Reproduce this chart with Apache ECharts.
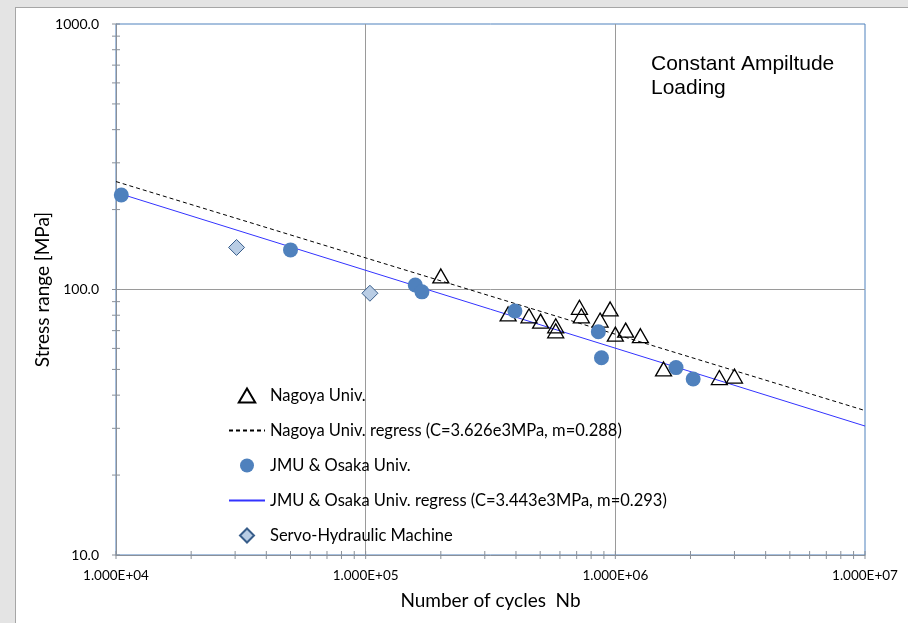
<!DOCTYPE html>
<html>
<head>
<meta charset="utf-8">
<script src="https://cdn.jsdelivr.net/npm/echarts@6/dist/echarts.min.js"></script>
<style>
html, body { margin: 0; padding: 0; background: #e4e4e4; }
#marco { position: absolute; left: 15px; top: 7px; width: 893px; height: 616px; background: #fff; border-left: 1px solid #a6a6a6; border-top: 1px solid #a6a6a6; box-sizing: border-box; }
#grafico { position: absolute; left: 0; top: 0; width: 908px; height: 623px; }
</style>
</head>
<body>
<div id="marco"></div>
<div id="grafico"></div>
<script>
// datos (N ciclos, rango de tension MPa)
var nagoya = [
    [2.0e5, 112.5], [3.72e5, 80.9], [4.51e5, 79.6], [5.02e5, 76.0],
    [5.77e5, 73.0], [5.77e5, 69.9], [7.18e5, 85.7], [7.31e5, 79.6],
    [8.69e5, 76.7], [9.53e5, 84.5], [1.0e6, 67.9], [1.10e6, 70.3],
    [1.26e6, 67.0], [1.56e6, 50.2], [2.61e6, 46.6], [3.0e6, 47.2]
];
var nagoyaRegresion = [[1e4, 255], [1e7, 35]];
var jmu = [
    [1.05e4, 227], [5.0e4, 141], [1.58e5, 104], [1.68e5, 98], [3.96e5, 83],
    [8.55e5, 69.3], [8.8e5, 55.3], [1.75e6, 50.8], [2.05e6, 46.0]
];
var jmuRegresion = [[1e4, 232], [1e7, 30.6]];
var servo = [[3.04e4, 144], [1.04e5, 96.8]];

var xEtiquetas = ["1.000E+04", "1.000E+05", "1.000E+06", "1.000E+07"];
var yEtiquetas = ["10.0", "100.0", "1000.0"];
var nombres = [
    "Nagoya Univ.",
    "Nagoya Univ. regress (C=3.626e3MPa, m=0.288)",
    "JMU & Osaka Univ.",
    "JMU & Osaka Univ. regress (C=3.443e3MPa, m=0.293)",
    "Servo-Hydraulic Machine"
];

// marcas del eje (principales y secundarias)
function marcasLog(desde, hasta){
    var r = [];
    for (var d = desde; d < hasta; d++) {
        for (var k = 1; k <= 9; k++) r.push(k * Math.pow(10, d));
    }
    r.push(Math.pow(10, hasta));
    return r;
}
var marcasX = marcasLog(4, 7).map(function(v){ return [v, 10]; });
var marcasY = marcasLog(1, 3).map(function(v){ return [1e4, v]; });

function dibujarMarcaX(params, api){
    var p = api.coord([api.value(0), api.value(1)]);
    return { type: "line", shape: { x1: p[0], y1: p[1] - 4, x2: p[0], y2: p[1] + 4 },
        style: { stroke: "#8a9099", lineWidth: 1 } };
}
function dibujarMarcaY(params, api){
    var p = api.coord([api.value(0), api.value(1)]);
    return { type: "line", shape: { x1: p[0] - 4, y1: p[1], x2: p[0] + 4, y2: p[1] },
        style: { stroke: "#8a9099", lineWidth: 1 } };
}

var fuente = "Lato, 'Liberation Sans', sans-serif";

function grafico(){
    var dom = document.getElementById("grafico");
    var myChart = echarts.init(dom);
    var option = {
        animation: false,
        textStyle: { fontFamily: fuente },
        grid: {
            left: 116, top: 24, right: 43, bottom: 68,
            show: true, borderColor: "#4f81bd", borderWidth: 1
        },
        legend: {
            orient: "vertical",
            left: 228,
            top: 387,
            padding: 0,
            itemWidth: 36,
            itemHeight: 14,
            itemGap: 18,
            symbolKeepAspect: true,
            textStyle: { fontFamily: fuente, fontSize: 16.5, color: "#000" },
            data: [
                { name: nombres[0], icon: "path://M0,-9 L10,8 L-10,8 Z" },
                { name: nombres[1], itemStyle: { opacity: 0 } },
                { name: nombres[2], icon: "circle" },
                { name: nombres[3], itemStyle: { opacity: 0 } },
                { name: nombres[4], icon: "path://M0,-10 L10,0 L0,10 L-10,0 Z" }
            ]
        },
        graphic: [{
            type: "text",
            left: 651,
            top: 52,
            style: {
                text: "Constant Ampiltude\nLoading",
                font: "21px 'Liberation Sans', Arial, sans-serif",
                lineHeight: 24,
                fill: "#000"
            }
        }],
        xAxis: {
            type: "log",
            logBase: 10,
            min: 1e4,
            max: 1e7,
            name: "Number of cycles  Nb",
            nameLocation: "middle",
            nameGap: 36,
            nameTextStyle: { fontSize: 19, color: "#000", fontFamily: fuente },
            axisLine: { lineStyle: { color: "#8a9099", width: 1 } },
            axisTick: { show: false },
            axisLabel: {
                fontSize: 13.5, color: "#000", margin: 14,
                formatter: function(v){ return xEtiquetas[Math.round(Math.log10(v)) - 4]; }
            },
            splitLine: { show: true, showMinLine: false, showMaxLine: false,
                lineStyle: { color: "#9a9a9a", width: 1 } }
        },
        yAxis: {
            type: "log",
            logBase: 10,
            min: 10,
            max: 1000,
            name: "Stress range [MPa]",
            nameLocation: "middle",
            nameMoveOverlap: false,
            nameGap: 64,
            nameTextStyle: { fontSize: 19, color: "#000", fontFamily: fuente },
            axisLine: { lineStyle: { color: "#8a9099", width: 1 } },
            axisTick: { show: false },
            axisLabel: {
                fontSize: 14, color: "#000", margin: 17,
                formatter: function(v){ return yEtiquetas[Math.round(Math.log10(v)) - 1]; }
            },
            splitLine: { show: true, showMinLine: false, showMaxLine: false,
                lineStyle: { color: "#9a9a9a", width: 1 } }
        },
        series: [
            {
                name: nombres[1], type: "line", data: nagoyaRegresion,
                symbol: "none", z: 3,
                lineStyle: { color: "#000", width: 1, type: [4, 3] },
                itemStyle: { color: "#000" }
            },
            {
                name: nombres[3], type: "line", data: jmuRegresion,
                symbol: "none", z: 3,
                lineStyle: { color: "#3333ff", width: 1 },
                itemStyle: { color: "#3333ff" }
            },
            {
                name: nombres[0], type: "scatter", data: nagoya,
                symbol: "triangle", symbolSize: [16, 14], z: 4,
                itemStyle: { color: "rgba(255,255,255,0)", borderColor: "#000", borderWidth: 1.3, opacity: 1 }
            },
            {
                name: nombres[2], type: "scatter", data: jmu,
                symbol: "circle", symbolSize: 15, z: 5,
                itemStyle: { color: "#4f81bd", opacity: 1 }
            },
            {
                name: nombres[4], type: "scatter", data: servo,
                symbol: "diamond", symbolSize: 16, z: 5,
                itemStyle: { color: "#b9cde5", borderColor: "#385d8a", borderWidth: 1, opacity: 1 }
            },
            {
                type: "custom", data: marcasX, renderItem: dibujarMarcaX,
                silent: true, clip: false, z: 6
            },
            {
                type: "custom", data: marcasY, renderItem: dibujarMarcaY,
                silent: true, clip: false, z: 6
            }
        ]
    };
    myChart.setOption(option, true);
}

grafico();
</script>
</body>
</html>
